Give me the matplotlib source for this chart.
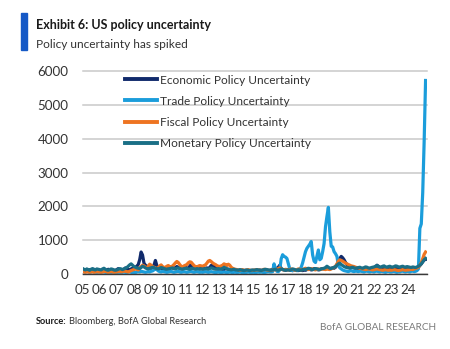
import matplotlib
matplotlib.use("Agg")
import matplotlib.pyplot as plt
import numpy as np
from matplotlib.patches import Rectangle

# Monthly index readings, one row per year (first row starts at the "05" tick)
economic = [
    150, 120, 110, 130, 100, 90, 110, 120, 140, 110, 100, 120,
    110, 100, 90, 120, 100, 110, 140, 120, 100, 90, 110, 100,
    130, 160, 120, 100, 110, 140, 180, 160, 130, 120, 150, 170,
    180, 200, 230, 280, 420, 650, 560, 320, 260, 230, 200, 180,
    170, 200, 260, 400, 250, 180, 170, 190, 160, 150, 140, 160,
    150, 170, 200, 180, 160, 190, 220, 200, 170, 150, 160, 180,
    200, 180, 160, 230, 280, 240, 200, 190, 170, 160, 180, 170,
    160, 150, 170, 180, 160, 190, 250, 280, 220, 180, 150, 140,
    150, 160, 140, 130, 160, 150, 140, 120, 110, 120, 110, 100,
    100, 90, 100, 110, 90, 100, 110, 100, 90, 100, 110, 90,
    100, 110, 90, 100, 120, 110, 100, 90, 110, 120, 100, 110,
    120, 140, 130, 150, 170, 200, 260, 160, 130, 120, 110, 120,
    130, 120, 110, 100, 110, 120, 110, 100, 120, 110, 100, 120,
    110, 130, 150, 140, 120, 130, 160, 150, 140, 120, 130, 150,
    160, 150, 170, 180, 160, 150, 170, 180, 170, 200, 260, 380,
    460, 520, 480, 420, 340, 280, 240, 220, 200, 190, 180, 170,
    170, 160, 150, 160, 150, 140, 150, 160, 150, 140, 150, 160,
    170, 200, 260, 230, 190, 170, 160, 150, 160, 170, 150, 140,
    150, 160, 170, 200, 180, 160, 150, 160, 170, 160, 150, 170,
    160, 170, 180, 160, 150, 170, 180, 200, 250, 300, 360, 420,
    430,
]
trade = [
    90, 70, 60, 80, 70, 50, 60, 80, 70, 60, 50, 60,
    60, 50, 70, 60, 50, 40, 60, 50, 40, 60, 50, 40,
    40, 50, 60, 40, 50, 60, 50, 40, 60, 70, 50, 40,
    50, 40, 60, 70, 60, 80, 70, 60, 50, 60, 70, 60,
    80, 90, 120, 150, 130, 90, 70, 60, 80, 70, 60, 50,
    60, 70, 80, 60, 50, 60, 70, 80, 60, 50, 60, 70,
    60, 50, 60, 70, 80, 60, 50, 60, 70, 60, 50, 60,
    50, 60, 70, 60, 50, 60, 70, 60, 50, 40, 50, 60,
    50, 40, 50, 60, 50, 40, 50, 60, 50, 40, 50, 60,
    40, 50, 60, 50, 40, 50, 40, 50, 60, 50, 40, 50,
    50, 40, 50, 60, 50, 60, 50, 40, 50, 60, 70, 60,
    60, 70, 300, 150, 80, 70, 120, 450, 570, 520, 500, 460,
    300, 150, 110, 100, 120, 110, 100, 130, 150, 200, 330, 500,
    660, 760, 820, 880, 960, 560, 380, 340, 520, 710, 420, 460,
    660, 900, 1400, 1700, 1970, 1250, 820, 800, 660, 600, 520, 250,
    180, 150, 120, 100, 90, 80, 70, 90, 100, 80, 70, 90,
    80, 70, 90, 80, 70, 60, 80, 90, 70, 60, 80, 70,
    60, 80, 90, 70, 60, 80, 70, 60, 50, 70, 80, 60,
    60, 70, 80, 60, 50, 70, 60, 80, 90, 70, 60, 80,
    70, 60, 80, 90, 70, 80, 100, 150, 1350, 1480, 2400, 3900,
    5720,
]
fiscal = [
    80, 60, 50, 70, 60, 50, 60, 70, 50, 60, 70, 60,
    60, 50, 60, 70, 80, 60, 50, 60, 70, 60, 50, 60,
    60, 70, 80, 60, 70, 90, 80, 70, 60, 80, 100, 120,
    130, 150, 140, 120, 180, 220, 260, 240, 200, 180, 230, 290,
    260, 220, 200, 180, 160, 190, 240, 270, 220, 190, 200, 230,
    250, 220, 200, 240, 280, 330, 370, 340, 280, 230, 210, 240,
    260, 280, 330, 360, 350, 300, 250, 220, 200, 230, 250, 240,
    230, 250, 270, 320, 380, 400, 370, 330, 300, 280, 250, 230,
    220, 240, 260, 300, 280, 250, 290, 260, 200, 170, 150, 140,
    130, 120, 110, 120, 130, 110, 100, 120, 130, 110, 100, 110,
    120, 110, 130, 120, 110, 100, 120, 140, 130, 120, 110, 100,
    110, 120, 130, 120, 140, 160, 180, 150, 130, 120, 140, 130,
    120, 130, 150, 140, 120, 110, 130, 150, 140, 120, 130, 150,
    170, 150, 130, 140, 160, 150, 130, 120, 140, 150, 130, 140,
    150, 140, 130, 150, 140, 130, 150, 170, 190, 230, 300, 380,
    420, 400, 380, 350, 320, 300, 280, 260, 240, 230, 220, 200,
    190, 180, 170, 160, 150, 140, 130, 140, 150, 140, 130, 120,
    130, 140, 150, 140, 130, 120, 110, 120, 130, 120, 110, 120,
    110, 120, 130, 120, 110, 100, 110, 120, 130, 120, 110, 120,
    120, 130, 140, 130, 150, 160, 180, 200, 260, 340, 450, 580,
    650,
]
monetary = [
    160, 140, 120, 150, 130, 110, 140, 160, 130, 120, 150, 140,
    130, 120, 150, 170, 140, 120, 110, 130, 150, 140, 120, 110,
    120, 140, 160, 150, 130, 150, 170, 190, 230, 270, 300, 260,
    220, 200, 180, 170, 160, 190, 230, 210, 180, 160, 150, 170,
    180, 200, 190, 170, 160, 150, 170, 190, 180, 160, 150, 140,
    150, 160, 170, 180, 160, 150, 170, 180, 160, 150, 140, 160,
    170, 160, 150, 140, 160, 170, 150, 140, 160, 150, 140, 150,
    140, 150, 160, 150, 140, 160, 180, 170, 150, 140, 150, 160,
    150, 140, 160, 200, 180, 150, 140, 130, 120, 130, 140, 120,
    120, 110, 130, 120, 110, 100, 110, 120, 110, 100, 110, 120,
    110, 120, 130, 120, 110, 100, 120, 130, 140, 130, 120, 110,
    110, 120, 130, 140, 120, 110, 130, 150, 140, 120, 110, 120,
    120, 110, 130, 150, 140, 120, 110, 130, 120, 110, 130, 140,
    130, 150, 170, 160, 140, 130, 150, 160, 150, 140, 130, 150,
    160, 170, 190, 230, 200, 170, 160, 180, 200, 220, 260, 300,
    320, 280, 250, 220, 200, 190, 180, 170, 190, 200, 180, 170,
    180, 190, 200, 180, 170, 190, 210, 200, 180, 170, 190, 200,
    210, 230, 250, 220, 200, 210, 230, 240, 210, 200, 220, 230,
    210, 200, 220, 240, 230, 210, 200, 220, 230, 210, 200, 220,
    210, 200, 190, 210, 200, 190, 210, 230, 260, 300, 360, 420,
    460,
]
year_labels = ["05", "06", "07", "08", "09", "10", "11", "12", "13", "14",
               "15", "16", "17", "18", "19", "20", "21", "22", "23", "24"]

series = [
    ("Economic Policy Uncertainty", economic, "#102a6b"),
    ("Trade Policy Uncertainty", trade, "#1b9ddb"),
    ("Fiscal Policy Uncertainty", fiscal, "#ee7421"),
    ("Monetary Policy Uncertainty", monetary, "#1a6f86"),
]

plt.rcParams["font.family"] = ["Lato", "DejaVu Sans"]

W, H = 450, 349
fig = plt.figure(figsize=(W / 100, H / 100), dpi=100)
fig.patch.set_facecolor("white")


def fx(px):
    return px / W


def fy(py):
    return 1 - py / H


ax = fig.add_axes([fx(82.5), fy(274), fx(427) - fx(82.5), fy(71) - fy(274)])

for name, vals, col in series:
    ax.plot(np.arange(len(vals)), vals, color=col, lw=2.3, label=name,
            solid_joinstyle="round")

ax.set_xlim(0, 241)
ax.set_ylim(0, 6000)
ax.set_yticks(np.arange(0, 6001, 1000))
ax.set_xticks(np.arange(len(year_labels)) * 12)
ax.set_xticklabels(year_labels)
ax.tick_params(axis="both", length=0, labelsize=9.6, colors="#333333")
ax.tick_params(axis="y", pad=10)
ax.tick_params(axis="x", pad=7)
ax.yaxis.grid(True, color="#c9c9c9", lw=1.1)
ax.set_axisbelow(True)
for gl in ax.get_ygridlines():
    gl.set_clip_on(False)
for side in ("top", "right", "left"):
    ax.spines[side].set_visible(False)
ax.spines["bottom"].set_color("#3a3a3a")
ax.spines["bottom"].set_linewidth(1.0)

leg = ax.legend(loc="upper left", bbox_to_anchor=(fx(125), fy(74.5)),
                bbox_transform=fig.transFigure, frameon=False, fontsize=8.6,
                borderpad=0, borderaxespad=0, handlelength=2.7,
                handletextpad=0.2, labelspacing=0.85)
for h in leg.legend_handles:
    h.set_linewidth(2.8)
for t in leg.get_texts():
    t.set_color("#333333")

# header block
fig.patches.append(Rectangle((fx(21), fy(50)), fx(6), fy(13) - fy(50),
                             transform=fig.transFigure, color="#1559c6"))
fig.text(fx(36), fy(25), "Exhibit 6: US policy uncertainty", fontsize=9.0,
         fontweight="bold", va="center", ha="left", color="#1a1a1a")
fig.text(fx(36), fy(44), "Policy uncertainty has spiked", fontsize=8.6,
         va="center", ha="left", color="#333333")

# footer
src = fig.text(fx(36), fy(322), "Source:", fontsize=6.7, fontweight="bold",
               va="center", ha="left", color="#1a1a1a")
fig.canvas.draw()
bb = src.get_window_extent()
fig.text(bb.x1 / W + fx(2), fy(322), "Bloomberg, BofA Global Research",
         fontsize=6.7, va="center", ha="left", color="#333333")
fig.text(fx(436), fy(327), "BofA GLOBAL RESEARCH", fontsize=7.2,
         va="center", ha="right", color="#7a7a7a")

fig.savefig("out.png", dpi=100, facecolor="white")
